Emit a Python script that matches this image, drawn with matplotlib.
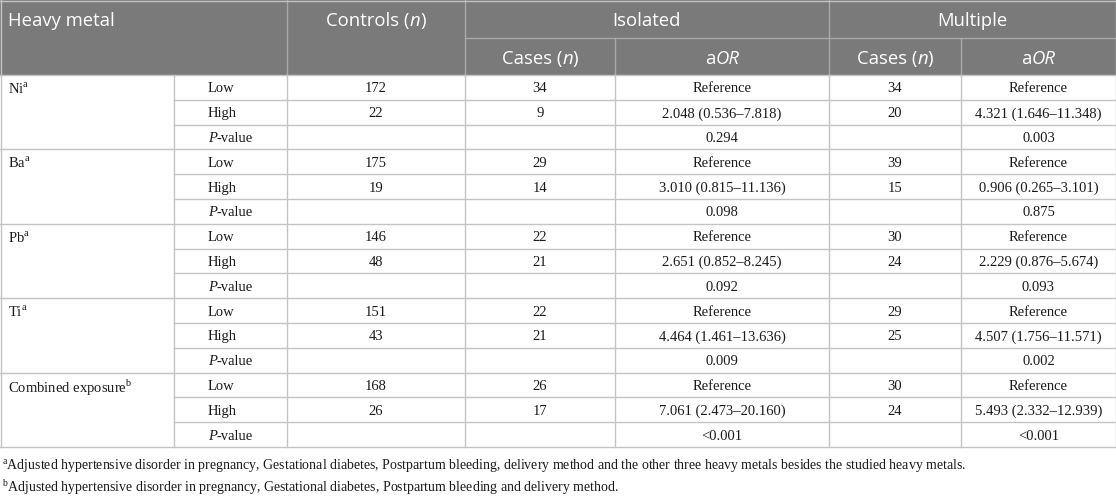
import matplotlib
matplotlib.use('Agg')
import matplotlib.pyplot as plt
from matplotlib.lines import Line2D
from matplotlib.patches import Rectangle

# Data
metals = ['Ni', 'Ba', 'Pb', 'Ti', 'Combined exposure']
metal_marks = ['a', 'a', 'a', 'a', 'b']
levels = ['Low', 'High']
controls = [[172, 22], [175, 19], [146, 48], [151, 43], [168, 26]]
iso_cases = [[34, 9], [29, 14], [22, 21], [22, 21], [26, 17]]
iso_aor = ['2.048 (0.536–7.818)', '3.010 (0.815–11.136)', '2.651 (0.852–8.245)',
           '4.464 (1.461–13.636)', '7.061 (2.473–20.160)']
iso_p = ['0.294', '0.098', '0.092', '0.009', '<0.001']
mul_cases = [[34, 20], [39, 15], [30, 24], [29, 25], [30, 24]]
mul_aor = ['4.321 (1.646–11.348)', '0.906 (0.265–3.101)', '2.229 (0.876–5.674)',
           '4.507 (1.756–11.571)', '5.493 (2.332–12.939)']
mul_p = ['0.003', '0.875', '0.093', '0.002', '<0.001']
footnotes = [
    ('a', 'Adjusted hypertensive disorder in pregnancy, Gestational diabetes, Postpartum bleeding, '
          'delivery method and the other three heavy metals besides the studied heavy metals.'),
    ('b', 'Adjusted hypertensive disorder in pregnancy, Gestational diabetes, Postpartum bleeding '
          'and delivery method.'),
]

W, H = 1116, 497
fig = plt.figure(figsize=(W / 100, H / 100), dpi=100)
ax = fig.add_axes([0, 0, 1, 1])
ax.set_xlim(0, W)
ax.set_ylim(H, 0)
ax.axis('off')
fig.canvas.draw()
renderer = fig.canvas.get_renderer()

HEAD_BG = '#7a7a7a'
HEAD_LINE = '#a8a8a8'
BODY_LINE = '#c4c4c4'
TXT = '#1a1a1a'
SANS = 'Open Sans'
SERIF = 'Liberation Serif'

cols = [0, 174, 287, 465, 615, 829, 961, W]
head_mid = 38
head_bot = 75
row_h = 24.8
n_rows = len(metals) * 3
table_bot = head_bot + row_h * n_rows


def text_width(s, **kw):
    t = ax.text(0, 0, s, **kw)
    w = t.get_window_extent(renderer).width
    t.remove()
    return w


def runs(x, y, parts, ha='center', color=TXT, family=SERIF, size=10.5):
    # parts: list of (text, style) where style is '' or 'it'
    specs = []
    for s, st in parts:
        kw = dict(family=family, color=color, va='center_baseline', ha='left', fontsize=size)
        if st == 'it':
            kw['style'] = 'italic'
        specs.append((s, kw))
    total = sum(text_width(s, **kw) for s, kw in specs)
    x0 = x - total / 2 if ha == 'center' else x
    for s, kw in specs:
        ax.text(x0, y, s, **kw)
        x0 += text_width(s, **kw)


def sup(mark):
    return r'$^{\mathregular{' + mark + '}}$'


def hline(y, x0, x1, c, lw=1.0):
    ax.add_line(Line2D([x0, x1], [y, y], color=c, lw=lw))


def vline(x, y0, y1, c, lw=1.0):
    ax.add_line(Line2D([x, x], [y0, y1], color=c, lw=lw))


# header background
ax.add_patch(Rectangle((0, 0), W, head_bot, color=HEAD_BG, lw=0))
hline(head_mid, cols[3], W, HEAD_LINE)
for x in [cols[2], cols[3], cols[5]]:
    vline(x, 0, head_bot, HEAD_LINE)
for x in [cols[4], cols[6]]:
    vline(x, head_mid, head_bot, HEAD_LINE)

hs = 13.3
y1 = 19
runs(8, y1, [('Heavy metal', '')], ha='left', color='white', family=SANS, size=hs)
runs((cols[2] + cols[3]) / 2, y1, [('Controls (', ''), ('n', 'it'), (')', '')],
     color='white', family=SANS, size=hs)
runs((cols[3] + cols[5]) / 2, y1, [('Isolated', '')], color='white', family=SANS, size=hs)
runs((cols[5] + W) / 2, y1, [('Multiple', '')], color='white', family=SANS, size=hs)
y2 = (head_mid + head_bot) / 2 + 0.5
for c0, c1, lab in [(3, 4, 'cases'), (4, 5, 'aor'), (5, 6, 'cases'), (6, 7, 'aor')]:
    xc = (cols[c0] + cols[c1]) / 2
    if lab == 'cases':
        parts = [('Cases (', ''), ('n', 'it'), (')', '')]
    else:
        parts = [('a', ''), ('OR', 'it')]
    runs(xc, y2, parts, color='white', family=SANS, size=hs)

# body lines
for i in range(n_rows + 1):
    y = head_bot + i * row_h
    x0 = 0 if i % 3 == 0 else cols[1]
    hline(y, x0, W, BODY_LINE)
for x in cols[1:-1]:
    vline(x, head_bot, table_bot, BODY_LINE)
vline(0.5, 0, table_bot, BODY_LINE)
vline(W - 0.5, 0, table_bot, BODY_LINE)
hline(0.5, 0, W, BODY_LINE)

# body text
for g, metal in enumerate(metals):
    base = head_bot + g * 3 * row_h
    yc = [base + (k + 0.5) * row_h for k in range(3)]
    runs(8, yc[0], [(metal + sup(metal_marks[g]), '')], ha='left')
    for k in range(2):
        runs(208, yc[k], [(levels[k], '')], ha='left')
    runs(208, yc[2], [('P', 'it'), ('-value', '')], ha='left')
    for k in range(2):
        runs((cols[2] + cols[3]) / 2, yc[k], [(str(controls[g][k]), '')])
        runs((cols[3] + cols[4]) / 2, yc[k], [(str(iso_cases[g][k]), '')])
        runs((cols[5] + cols[6]) / 2, yc[k], [(str(mul_cases[g][k]), '')])
    runs((cols[4] + cols[5]) / 2, yc[0], [('Reference', '')])
    runs((cols[6] + cols[7]) / 2, yc[0], [('Reference', '')])
    runs((cols[4] + cols[5]) / 2, yc[1], [(iso_aor[g], '')])
    runs((cols[6] + cols[7]) / 2, yc[1], [(mul_aor[g], '')])
    runs((cols[4] + cols[5]) / 2, yc[2], [(iso_p[g], '')])
    runs((cols[6] + cols[7]) / 2, yc[2], [(mul_p[g], '')])

# footnotes
for i, (mk, txt) in enumerate(footnotes):
    runs(2, 464 + i * 21, [(sup(mk) + txt, '')], ha='left', size=10)

fig.savefig('out.png', dpi=100, facecolor='white')
